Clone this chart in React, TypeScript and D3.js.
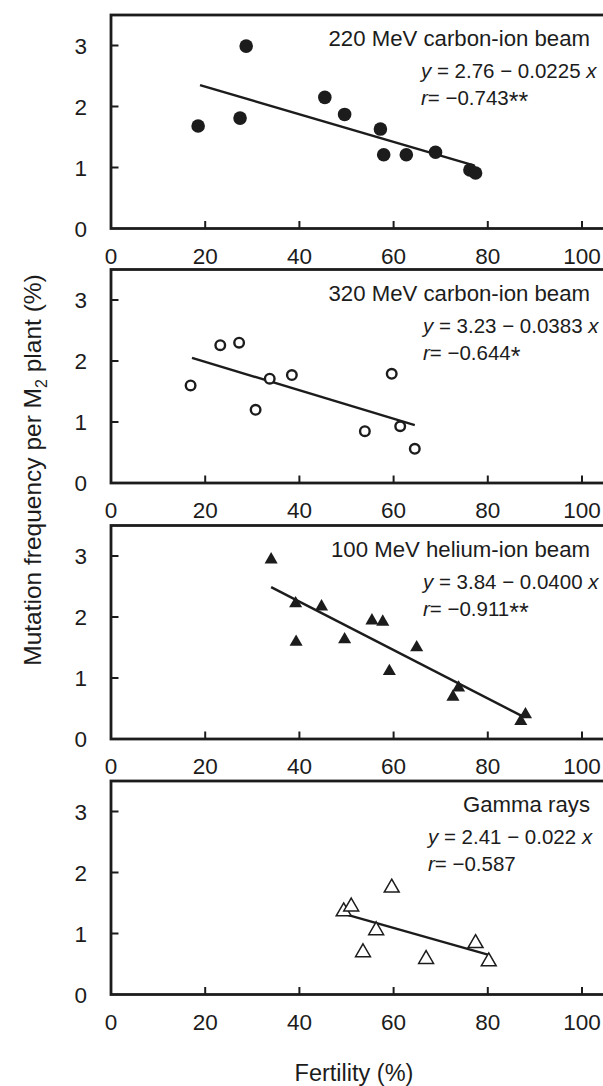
import React from "react";
import * as d3 from "d3";

// fertility (%) and mutation frequency (%)
const carbon220Fertility = [18.5, 27.4, 28.7, 45.4, 49.6, 57.2, 57.9, 62.7, 68.9, 76.2, 77.4];
const carbon220Freq = [1.68, 1.81, 2.99, 2.15, 1.87, 1.63, 1.21, 1.21, 1.25, 0.96, 0.91];

const carbon320Fertility = [16.9, 23.2, 27.2, 30.7, 33.7, 38.4, 53.9, 59.6, 61.4, 64.5];
const carbon320Freq = [1.6, 2.26, 2.3, 1.2, 1.71, 1.77, 0.85, 1.79, 0.93, 0.56];

const heliumFertility = [34.0, 39.2, 39.3, 44.7, 49.6, 55.4, 57.7, 59.1, 64.9, 72.6, 73.8, 87.0, 88.0];
const heliumFreq = [2.94, 2.22, 1.59, 2.17, 1.63, 1.94, 1.92, 1.11, 1.5, 0.69, 0.84, 0.29, 0.4];

const gammaFertility = [49.4, 51.0, 59.6, 53.5, 56.3, 66.9, 77.4, 80.2];
const gammaFreq = [1.36, 1.44, 1.75, 0.69, 1.05, 0.58, 0.84, 0.54];

// regression line end points [x0, x1], [y0, y1]
const fitX = [[18.9, 77.2], [17.2, 64.5], [34.0, 87.4], [50.4, 80.2]];
const fitY = [[2.35, 1.03], [2.05, 0.95], [2.49, 0.37], [1.3, 0.65]];

const titles = ["220 MeV carbon-ion beam", "320 MeV carbon-ion beam", "100 MeV helium-ion beam", "Gamma rays"];
const intercepts = ["2.76", "3.23", "3.84", "2.41"];
const slopes = ["0.0225", "0.0383", "0.0400", "0.022"];
const rValues = ["\u22120.743", "\u22120.644", "\u22120.911", "\u22120.587"];
const significance = ["**", "*", "**", ""];
const markers = ["filledCircle", "openCircle", "filledTriangle", "openTriangle"];

const xTicks = [0, 20, 40, 60, 80, 100];
const yTicks = [0, 1, 2, 3];

const series = [
  [carbon220Fertility, carbon220Freq],
  [carbon320Fertility, carbon320Freq],
  [heliumFertility, heliumFreq],
  [gammaFertility, gammaFreq],
];

const W = 603;
const H = 1086;
const left = 111;
const right = 607;
const axisYs = [228.5, 483, 739, 994.5];
const unit = 61;
const ink = "#1c1c1c";
const font = "Arial, 'Liberation Sans', Helvetica, sans-serif";
const eqX = [421, 423, 423, 428];

const x = d3.scaleLinear().domain([0, 100]).range([left, 582]);

const triFilled = d3.symbol(d3.symbolTriangle, 74)();
const triOpen = d3.symbol(d3.symbolTriangle, 96)();

function Marker({ kind, cx, cy }: { kind: string; cx: number; cy: number }) {
  if (kind === "filledCircle") return <circle cx={cx} cy={cy} r={6.8} fill={ink} />;
  if (kind === "openCircle")
    return <circle cx={cx} cy={cy} r={4.8} fill="#fff" stroke={ink} strokeWidth={2.4} />;
  if (kind === "filledTriangle")
    return <path d={triFilled || ""} transform={`translate(${cx},${cy})`} fill={ink} />;
  return (
    <path d={triOpen || ""} transform={`translate(${cx},${cy})`} fill="#fff" stroke={ink} strokeWidth={1.5} />
  );
}

function Panel({ i }: { i: number }) {
  const base = axisYs[i];
  const y = d3.scaleLinear().domain([0, 3.5]).range([base, base - 3.5 * unit]);
  const top = y(3.5);
  const [fx, fy] = series[i];
  const line = d3.line<number>().x((d) => x(fitX[i][d])).y((d) => y(fitY[i][d]));
  return (
    <g>
      <rect x={left} y={top} width={right - left} height={base - top} fill="#fff" stroke={ink} strokeWidth={2.8} />
      {yTicks.slice(1).map((t) => (
        <line key={"yt" + t} x1={left} x2={left + 7.5} y1={y(t)} y2={y(t)} stroke={ink} strokeWidth={2} />
      ))}
      {xTicks.slice(1).map((t) => (
        <line key={"xt" + t} x1={x(t)} x2={x(t)} y1={base} y2={base - 7.5} stroke={ink} strokeWidth={2} />
      ))}
      {yTicks.map((t) => (
        <text key={"yl" + t} x={87} y={y(t)} dy="0.36em" textAnchor="end" fontSize={22.5} fill={ink}>
          {t}
        </text>
      ))}
      {xTicks.map((t) => (
        <text key={"xl" + t} x={x(t)} y={base + 35} textAnchor="middle" fontSize={22.5} fill={ink}>
          {t}
        </text>
      ))}
      <path d={line([0, 1]) || ""} fill="none" stroke={ink} strokeWidth={2.4} />
      {fx.map((v, k) => (
        <Marker key={k} kind={markers[i]} cx={x(v)} cy={y(fy[k])} />
      ))}
      <text x={590} y={top + 31} textAnchor="end" fontSize={22.2} fill={ink}>
        {titles[i]}
      </text>
      <text x={eqX[i]} y={top + 63} fontSize={20.5} fill={ink}>
        <tspan fontStyle="italic">y</tspan>
        {` = ${intercepts[i]} \u2212 ${slopes[i]} `}
        <tspan fontStyle="italic">x</tspan>
      </text>
      <text x={eqX[i]} y={top + 90} fontSize={20.5} fill={ink}>
        <tspan fontStyle="italic">r</tspan>
        {`= ${rValues[i]}`}
        {significance[i] && (
          <tspan fontSize={25} dy="5">
            {significance[i]}
          </tspan>
        )}
      </text>
    </g>
  );
}

export default function App() {
  return (
    <svg
      width={W}
      height={H}
      viewBox={`0 0 ${W} ${H}`}
      style={{ position: "absolute", left: 0, top: 0, background: "#fff" }}
      fontFamily={font}
    >
      {[0, 1, 2, 3].map((i) => (
        <Panel key={i} i={i} />
      ))}
      <text transform="translate(41,470) rotate(-90)" textAnchor="middle" fontSize={24.5} fill={ink}>
        Mutation frequency per M
        <tspan fontSize={16} dy="6">2</tspan>
        <tspan dy="-6"> plant (%)</tspan>
      </text>
      <text x={354} y={1081} textAnchor="middle" fontSize={23.5} fill={ink}>
        Fertility (%)
      </text>
    </svg>
  );
}
